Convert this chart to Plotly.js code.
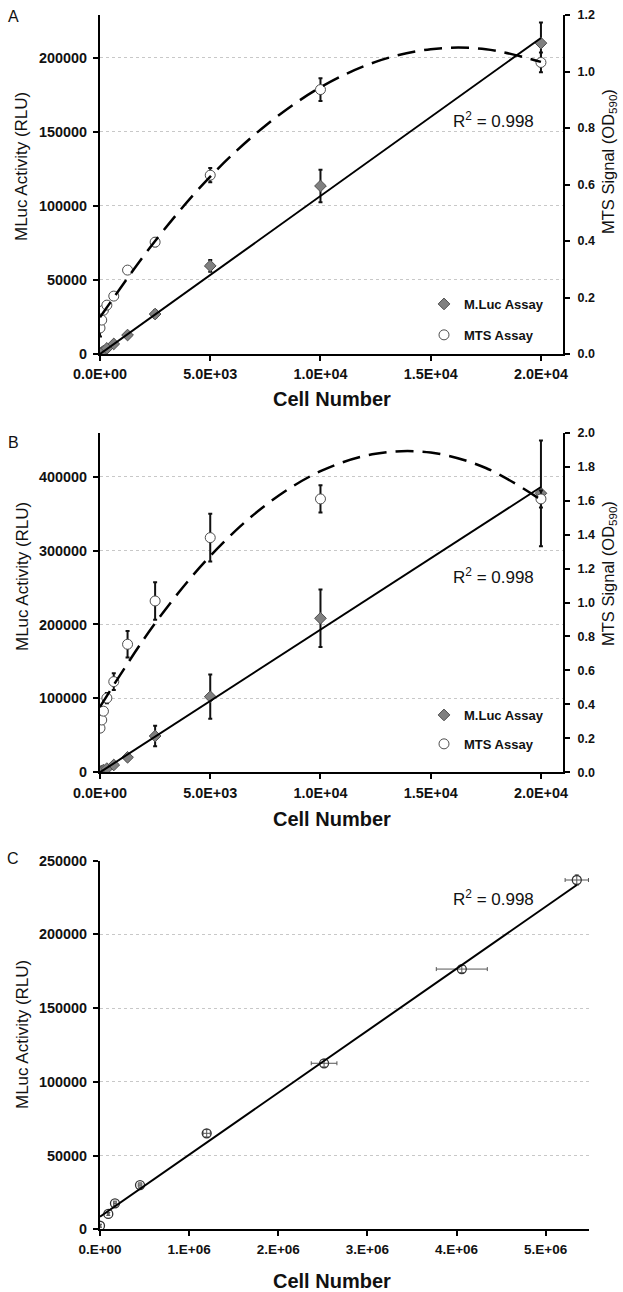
<!DOCTYPE html>
<html>
<head>
<meta charset="utf-8">
<script src="https://cdn.plot.ly/plotly-3.0.1.min.js"></script>
<style>html,body{margin:0;padding:0;background:#fff;}#chart{width:623px;height:1292px;}</style>
</head>
<body>
<div id="chart"></div>
<script>
// ---------- data ----------
const cellsAB = [0, 78, 156, 312, 625, 1250, 2500, 5000, 10000, 20000];
const mlucA    = [500, 1000, 2000, 3800, 6800, 12800, 27000, 59500, 113500, 210000];
const mlucAErr = [300, 400, 500, 700, 1000, 1500, 2500, 4000, 11000, 14000];
const mtsA     = [0.092, 0.12, 0.155, 0.173, 0.205, 0.297, 0.396, 0.633, 0.936, 1.032];
const mtsAErr  = [0.03, 0.01, 0.01, 0.01, 0.01, 0.01, 0.015, 0.025, 0.04, 0.035];

const mlucB    = [1000, 2000, 3000, 5000, 9900, 20300, 49100, 102300, 208400, 377500];
const mlucBErr = [500, 700, 1000, 1500, 2500, 4000, 14000, 30000, 39000, 71500];
const mtsB     = [0.26, 0.308, 0.36, 0.437, 0.534, 0.754, 1.009, 1.382, 1.61, 1.61];
const mtsBErr  = [0.02, 0.02, 0.02, 0.03, 0.05, 0.078, 0.11, 0.14, 0.08, 0.05];

// trend lines
const fitX     = [0, 20000];
const mlucFitA = [0, 213500];
const mlucFitB = [0, 386000];
const curveX   = [0, 2500, 5000, 7500, 10000, 12500, 15000, 17500, 20000];
const mtsFitA  = [0.13, 0.40, 0.628, 0.808, 0.944, 1.034, 1.079, 1.079, 1.034];
const mtsFitB  = [0.386, 0.878, 1.274, 1.572, 1.773, 1.876, 1.883, 1.792, 1.605];

const cellsC    = [0, 93000, 168000, 449000, 1197000, 2514000, 4059000, 5349000];
const cellsCErr = [10000, 10000, 15000, 20000, 40000, 144000, 286000, 131000];
const mlucC     = [2400, 10400, 17600, 30000, 65100, 112600, 176500, 236900];
const mlucCErr  = [1000, 1000, 1500, 1500, 2500, 2500, 2500, 3500];
const fitCX     = [0, 5349000];
const fitCY     = [8500, 233500];

const xTicksAB = [0, 5000, 10000, 15000, 20000];
const xTextAB  = ['0.0E+00', '5.0E+03', '1.0E+04', '1.5E+04', '2.0E+04'];
const xTicksC  = [0, 1000000, 2000000, 3000000, 4000000, 5000000];
const xTextC   = ['0.E+00', '1.E+06', '2.E+06', '3.E+06', '4.E+06', '5.E+06'];
const yTicksA  = [0, 50000, 100000, 150000, 200000];
const yTicksB  = [0, 100000, 200000, 300000, 400000];
const yTicksC  = [0, 50000, 100000, 150000, 200000, 250000];
const rTicksA  = [0, 0.2, 0.4, 0.6, 0.8, 1.0, 1.2];
const rTicksB  = [0, 0.2, 0.4, 0.6, 0.8, 1.0, 1.2, 1.4, 1.6, 1.8, 2.0];

// ---------- styling ----------
const FONT = 'Liberation Sans, Arial, sans-serif';
const W = 623, H = 1292;
const px = x => x / W;
const py = y => 1 - y / H;

const diamond = {symbol: 'diamond', size: 9, color: '#808080', line: {color: '#4d4d4d', width: 1}};
const circle  = {symbol: 'circle', size: 10, color: '#ffffff', line: {color: '#4d4d4d', width: 1}};
const errBlack = (arr) => ({type: 'data', array: arr, visible: true, color: '#111', thickness: 2, width: 2});

function pts(x, y, err, marker, xa, ya, name, legend) {
  return {x: x, y: y, type: 'scatter', mode: 'markers', marker: marker, error_y: errBlack(err),
    xaxis: xa, yaxis: ya, name: name, legend: legend, legendgroup: name + legend, showlegend: true, hoverinfo: 'skip'};
}
function line(x, y, xa, ya, dash, shape) {
  return {x: x, y: y, type: 'scatter', mode: 'lines', xaxis: xa, yaxis: ya, showlegend: false, hoverinfo: 'skip',
    line: {color: '#000', width: dash ? 2.5 : 2, dash: dash || 'solid', shape: shape || 'linear'}};
}

const data = [
  pts(cellsAB, mlucA, mlucAErr, diamond, 'x', 'y', 'M.Luc Assay', 'legend'),
  pts(cellsAB, mtsA, mtsAErr, circle, 'x', 'y2', 'MTS Assay', 'legend'),
  line(fitX, mlucFitA, 'x', 'y'),
  line(curveX, mtsFitA, 'x', 'y2', '18px,9px', 'spline'),

  pts(cellsAB, mlucB, mlucBErr, diamond, 'x2', 'y3', 'M.Luc Assay', 'legend2'),
  pts(cellsAB, mtsB, mtsBErr, circle, 'x2', 'y4', 'MTS Assay', 'legend2'),
  line(fitX, mlucFitB, 'x2', 'y3'),
  line(curveX, mtsFitB, 'x2', 'y4', '18px,9px', 'spline'),

  {x: cellsC, y: mlucC, type: 'scatter', mode: 'markers', xaxis: 'x3', yaxis: 'y5', showlegend: false, hoverinfo: 'skip',
   marker: {symbol: 'circle-open', size: 9, color: '#333', line: {color: '#333', width: 1.3}},
   error_x: {type: 'data', array: cellsCErr, visible: true, color: '#555', thickness: 1, width: 2},
   error_y: {type: 'data', array: mlucCErr, visible: true, color: '#555', thickness: 1, width: 2}},
  line(fitCX, fitCY, 'x3', 'y5')
];

const tickBold = (s) => ({family: FONT, size: s, color: '#111', weight: 'bold'});
const xAxisBase = {showline: true, linecolor: '#000', linewidth: 2, ticks: 'outside', ticklen: 5, tickwidth: 2,
  tickcolor: '#000', showgrid: false, zeroline: false, tickfont: tickBold(14.4), tickmode: 'array', ticklabelstandoff: 1};
const yLeftBase = {showline: true, linecolor: '#000', linewidth: 2, ticks: 'outside', ticklen: 5, tickwidth: 2,
  tickcolor: '#000', showgrid: true, gridcolor: '#c8c8c8', griddash: 'dot', gridwidth: 1, zeroline: false,
  tickfont: tickBold(14.4), tickmode: 'array', tickformat: 'd', ticklabelstandoff: 3};
const yRightBase = {showline: true, linecolor: '#000', linewidth: 2, ticks: 'outside', ticklen: 5, tickwidth: 2,
  tickcolor: '#000', showgrid: false, zeroline: false, side: 'right', tickfont: tickBold(12.5),
  tickmode: 'array', tickformat: '.1f', ticklabelstandoff: 5};

function note(text, x, y, size, extra) {
  return Object.assign({text: text, x: px(x), y: py(y), xref: 'paper', yref: 'paper', showarrow: false,
    xanchor: 'center', yanchor: 'middle', font: {family: FONT, size: size, color: '#111'}}, extra || {});
}
const boldFont = {family: FONT, size: 20, color: '#111', weight: 'bold'};

const layout = {
  width: W, height: H, autosize: false,
  margin: {l: 0, r: 0, t: 0, b: 0, pad: 0},
  paper_bgcolor: '#fff', plot_bgcolor: 'rgba(0,0,0,0)',
  font: {family: FONT, color: '#111'},
  xaxis:  Object.assign({}, xAxisBase, {domain: [px(100), px(563)], range: [0, 21000], tickvals: xTicksAB, ticktext: xTextAB, anchor: 'y'}),
  yaxis:  Object.assign({}, yLeftBase, {domain: [py(354), py(15)], range: [0, 229000], tickvals: yTicksA, anchor: 'x'}),
  yaxis2: Object.assign({}, yRightBase, {domain: [py(354), py(15)], range: [0, 1.2], tickvals: rTicksA, overlaying: 'y', anchor: 'x'}),
  xaxis2: Object.assign({}, xAxisBase, {domain: [px(100), px(563)], range: [0, 21000], tickvals: xTicksAB, ticktext: xTextAB, anchor: 'y3'}),
  yaxis3: Object.assign({}, yLeftBase, {domain: [py(772.3), py(432.7)], range: [0, 459500], tickvals: yTicksB, anchor: 'x2'}),
  yaxis4: Object.assign({}, yRightBase, {domain: [py(772.3), py(432.7)], range: [0, 2.0], tickvals: rTicksB, overlaying: 'y3', anchor: 'x2'}),
  xaxis3: Object.assign({}, xAxisBase, {domain: [px(100), px(589)], range: [0, 5486000], tickvals: xTicksC, ticktext: xTextC, anchor: 'y5', tickfont: tickBold(13.5)}),
  yaxis5: Object.assign({}, yLeftBase, {domain: [py(1229.3), py(860.7)], range: [0, 250000], tickvals: yTicksC, anchor: 'x3'}),
  legend:  {x: px(424), y: py(289), xanchor: 'left', yanchor: 'top', bgcolor: 'rgba(0,0,0,0)', borderwidth: 0,
            font: {family: FONT, size: 13, color: '#111', weight: 'bold'}, tracegroupgap: 11, traceorder: 'grouped', itemwidth: 30},
  legend2: {x: px(424), y: py(700), xanchor: 'left', yanchor: 'top', bgcolor: 'rgba(0,0,0,0)', borderwidth: 0,
            font: {family: FONT, size: 13, color: '#111', weight: 'bold'}, tracegroupgap: 9, traceorder: 'grouped', itemwidth: 30},
  annotations: [
    note('A', 13, 16, 16),
    note('B', 13, 443, 16),
    note('C', 13, 858, 16),
    note('R<sup>2</sup> = 0.998', 493, 120, 17),
    note('R<sup>2</sup> = 0.998', 493, 576, 17),
    note('R<sup>2</sup> = 0.998', 493, 898, 17),
    note('MLuc Activity (RLU)', 22, 167, 17, {textangle: -90}),
    note('MLuc Activity (RLU)', 22, 577, 17, {textangle: -90}),
    note('MLuc Activity (RLU)', 22, 1035, 17, {textangle: -90}),
    note('MTS Signal (OD<sub>590</sub>)', 609, 162, 16.5, {textangle: -90}),
    note('MTS Signal (OD<sub>590</sub>)', 609, 574, 16.5, {textangle: -90}),
    note('Cell Number', 332, 399, 20, {font: boldFont}),
    note('Cell Number', 332, 819, 20, {font: boldFont}),
    note('Cell Number', 332, 1281, 20, {font: boldFont})
  ]
};

Plotly.newPlot('chart', data, layout, {staticPlot: true, displayModeBar: false});
</script>
</body>
</html>
